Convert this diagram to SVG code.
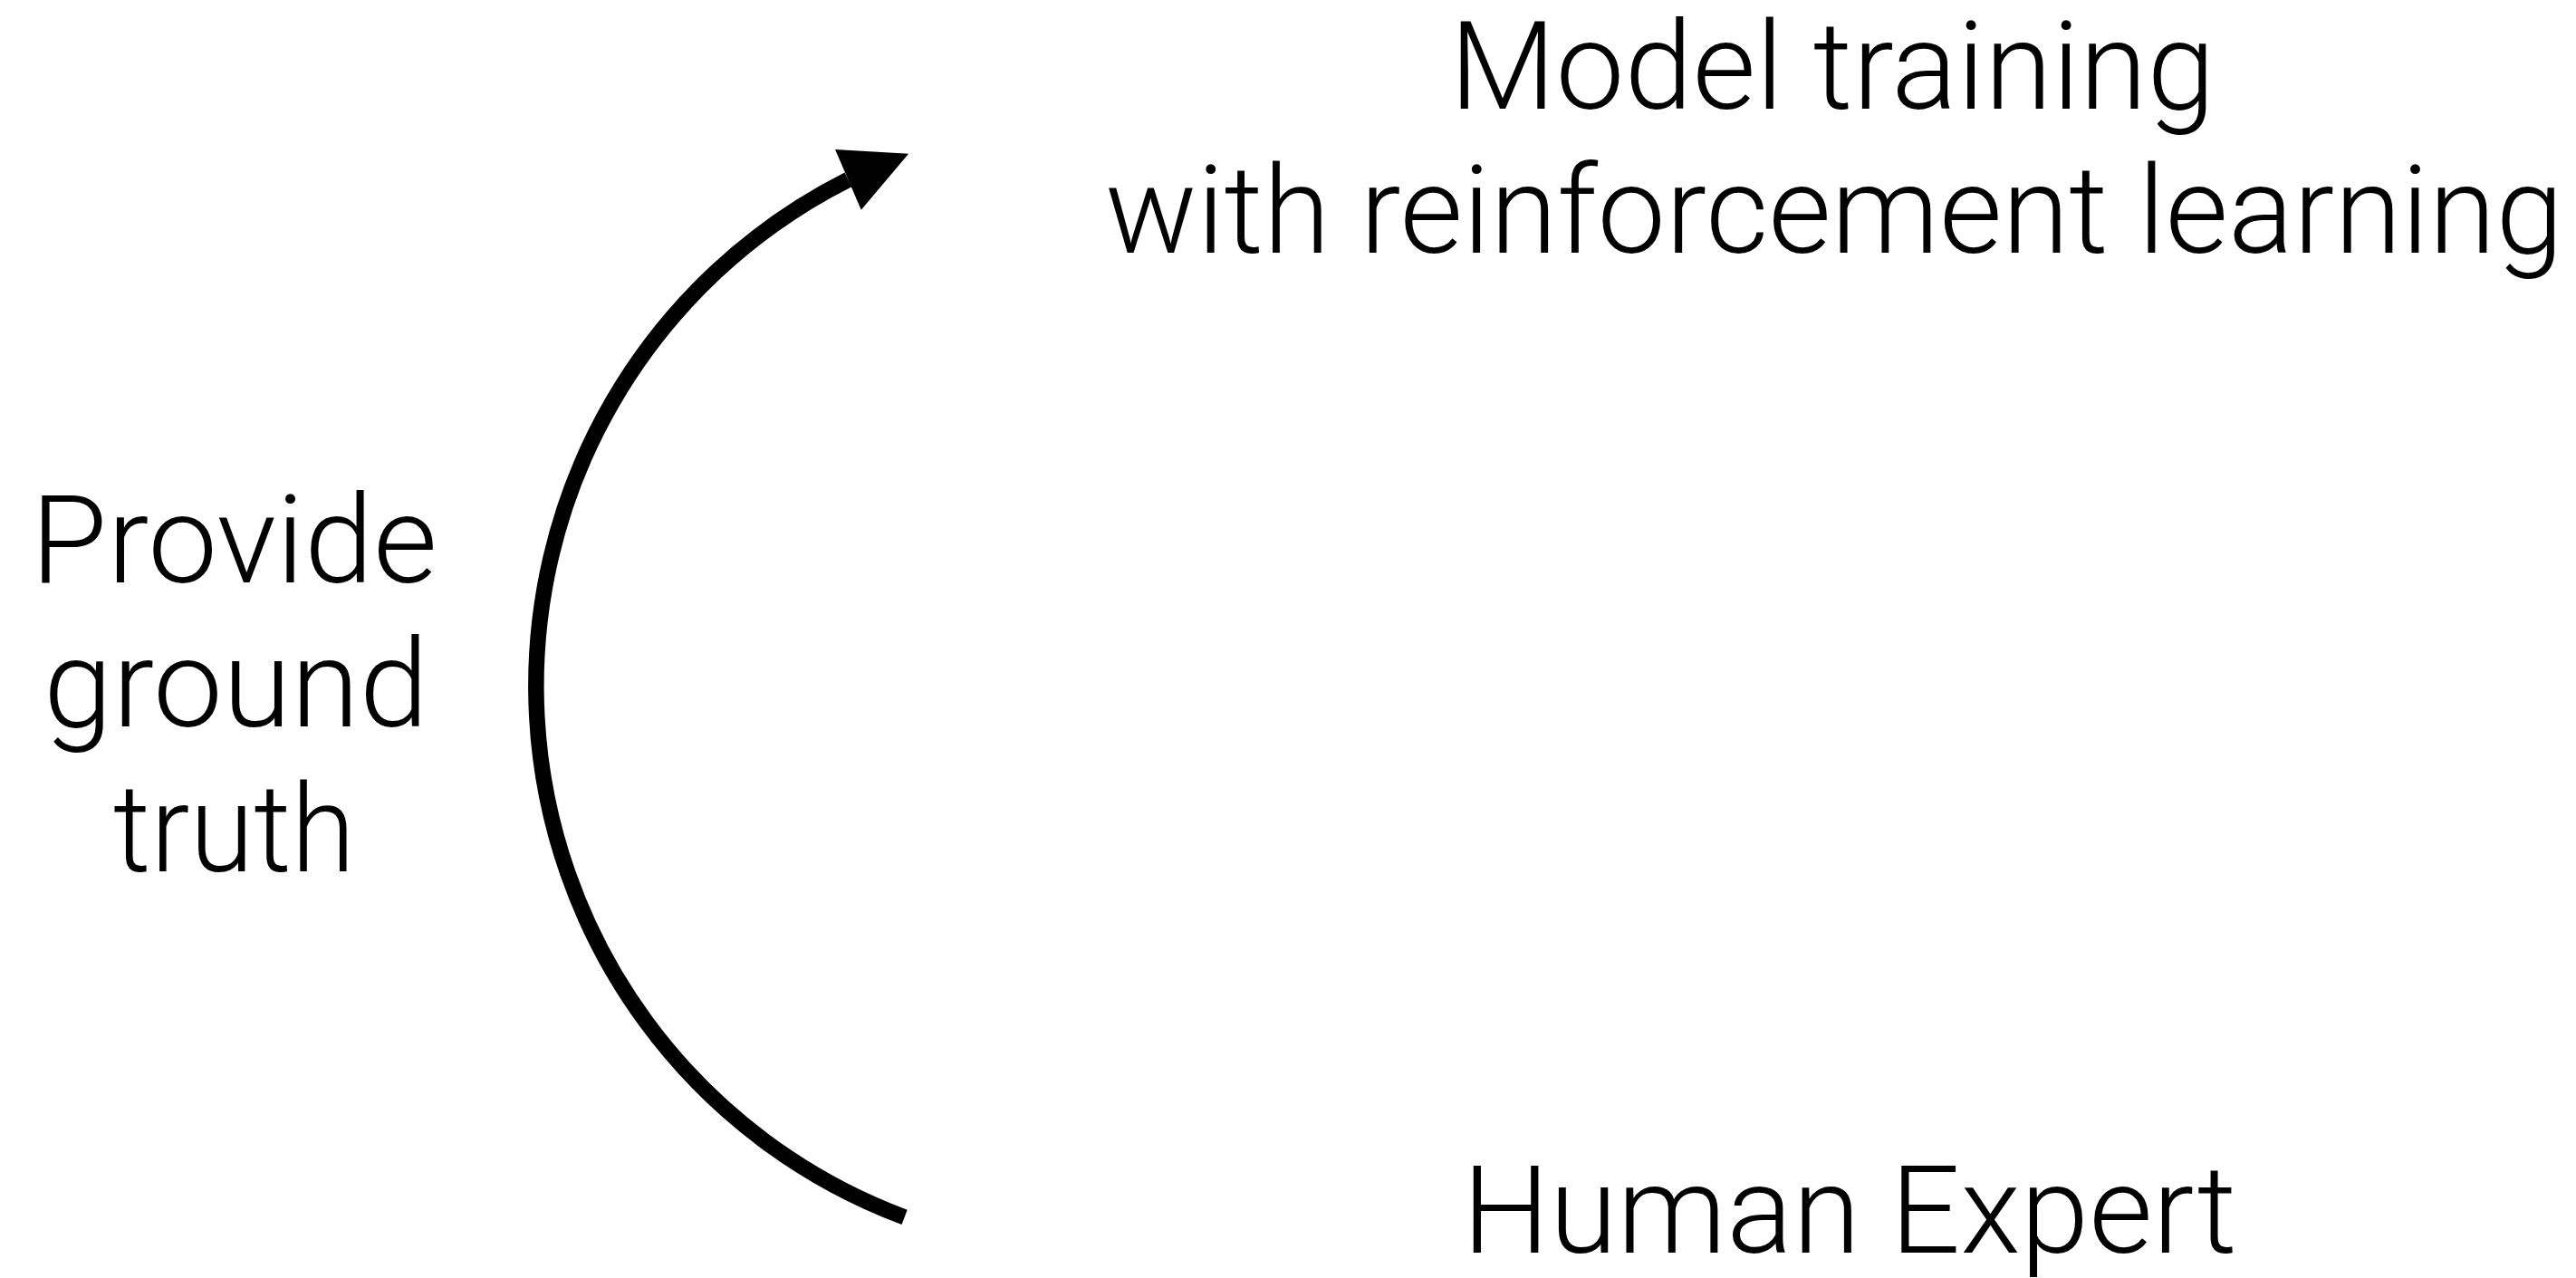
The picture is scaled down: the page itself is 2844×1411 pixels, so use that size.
<svg xmlns="http://www.w3.org/2000/svg" width="2844" height="1411" viewBox="0 0 2844 1411">
  <style>
    .lbl { font-family: "Helvetica Neue", Roboto, "Liberation Sans", sans-serif; font-weight: 300; font-size: 136px; fill: #000; text-anchor: middle; }
    .conn { fill: none; stroke: #000; stroke-width: 17.5; stroke-linecap: butt; }
  </style>
  <defs>
    <marker id="arrowhead" markerUnits="userSpaceOnUse" markerWidth="80" markerHeight="80" refX="0" refY="0" orient="-23.3" overflow="visible">
      <path d="M0,-36.3 L72.6,0 L0,36.3 Z" fill="#000"/>
    </marker>
  </defs>
  <rect x="0" y="0" width="2844" height="1411" fill="#fff"/>

  <g id="connectors">
    <path class="conn" d="M 998.6 1343.9 A 626 626 0 0 1 936.4 198.4" marker-end="url(#arrowhead)"/>
  </g>

  <g id="node-model-training">
    <text class="lbl" x="2023" y="120" textLength="845" lengthAdjust="spacingAndGlyphs">Model training</text>
    <text class="lbl" x="2025" y="279" textLength="1610" lengthAdjust="spacingAndGlyphs">with reinforcement learning</text>
  </g>

  <g id="node-human-expert">
    <text class="lbl" x="2042" y="1383" textLength="855" lengthAdjust="spacingAndGlyphs">Human Expert</text>
  </g>

  <g id="label-provide-ground-truth">
    <text class="lbl" x="258.5" y="643" textLength="449" lengthAdjust="spacingAndGlyphs">Provide</text>
    <text class="lbl" x="260.5" y="802" textLength="425" lengthAdjust="spacingAndGlyphs">ground</text>
    <text class="lbl" x="258.5" y="962" textLength="267" lengthAdjust="spacingAndGlyphs">truth</text>
  </g>
</svg>
